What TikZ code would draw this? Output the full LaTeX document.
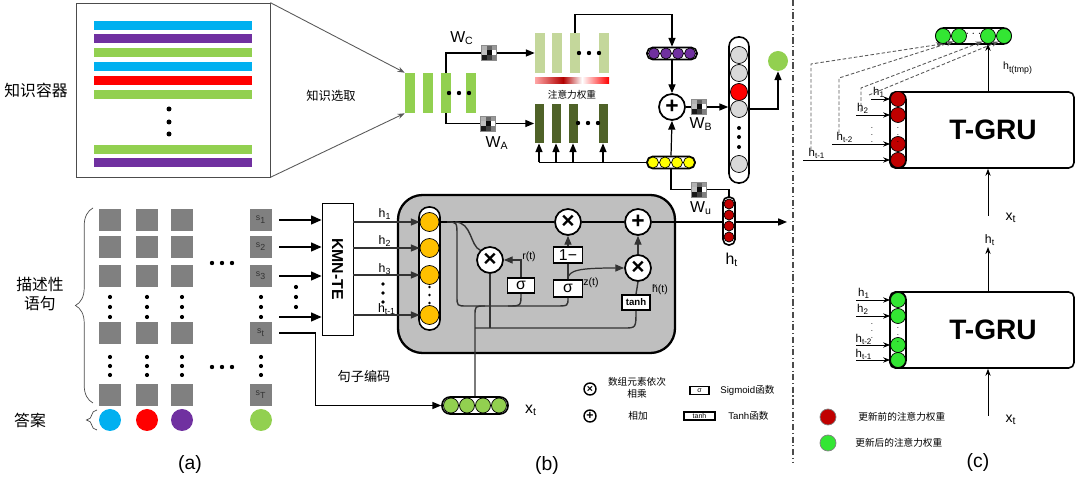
\documentclass[tikz,border=0pt]{standalone}
\usepackage{fontspec}
\setmainfont{Liberation Sans}
\newfontfamily\cjk{Noto Sans CJK SC}
\usetikzlibrary{arrows.meta,decorations.pathreplacing,calc}
\definecolor{kcyan}{HTML}{00B0F0}
\definecolor{kpurple}{HTML}{7030A0}
\definecolor{kgreen}{HTML}{92D050}
\definecolor{kred}{HTML}{FF0000}
\definecolor{klight}{HTML}{C4D79B}
\definecolor{kdark}{HTML}{4F6228}
\definecolor{korange}{HTML}{FFC000}
\definecolor{kyellow}{HTML}{FFFF00}
\definecolor{kdred}{HTML}{C00000}
\definecolor{kbright}{HTML}{33E633}
\newcommand{\pxu}{0.02cm}
\newcommand{\fsz}[1]{\fontsize{#1}{#1}\selectfont}
\def\wmat(#1,#2){%
  \begin{scope}[shift={(#1-7.5,#2-7.5)}]
    \foreach \wshade [count=\wk from 0] in {30,60,40,25,95,0,90,75,50}{
      \pgfmathtruncatemacro\wcol{mod(\wk,3)}
      \pgfmathtruncatemacro\wrow{div(\wk,3)}
      \fill[black!\wshade] (5*\wcol,5*\wrow) rectangle ++(5,5);}
    \draw[black!45, line width=0.3pt] (0,0) rectangle (15,15);
  \end{scope}}
\def\hdots(#1,#2){\foreach \d in {-10,0,10} \fill ({#1+\d},#2) circle (2.2);}
\newcommand{\vcircs}[5]{\foreach \yy [count=\k] in {#2}
  \node[circle, draw, fill=#4, minimum size=#3*\pxu, inner sep=0] (#5\k) at (#1,\yy) {};}
\newcommand{\hcircs}[5]{\foreach \xx [count=\k] in {#1}
  \node[circle, draw, fill=#4, minimum size=#3*\pxu, inner sep=0] (#5\k) at (\xx,#2) {};}
\tikzset{
  ar/.style={line width=0.7pt, -{Triangle[length=5pt,width=4pt]}},
  bigar/.style={line width=1pt, -{Triangle[length=6pt,width=5pt]}},
  thinar/.style={line width=0.5pt, -{Stealth[length=4pt,width=3pt]}},
  bar/.style 2 args={inner sep=0, minimum width=#1*\pxu, minimum height=#2*\pxu},
  capsule/.style n args={3}{draw, line width=0.9pt, fill=white, inner sep=0,
    minimum width=#1*\pxu, minimum height=#2*\pxu, rounded corners=#3*\pxu},
  sq/.style={fill=black!50, minimum size=22*\pxu, inner sep=0},
  op/.style={circle, draw, line width=1pt, fill=white, inner sep=0,
    minimum size=26*\pxu, font=\bfseries\fsz{13}},
  gate/.style={draw, line width=0.9pt, fill=white, inner sep=0, font=\fsz{9}},
  tgru/.style={draw, line width=0.9pt, rounded corners=3pt, fill=white,
    minimum width=184*\pxu, minimum height=76*\pxu},
  lbl/.style={inner sep=0, font=\fsz{7}},
  cn/.style={inner sep=0, font=\cjk\fsz{7}},
  vd/.style={inner sep=0, font=\fsz{4.5}},
}
\begin{document}
\begin{tikzpicture}[x=0.02cm,y=-0.02cm]
\useasboundingbox (0,0) rectangle (1080,479);
%%%%% (a) knowledge container %%%%%
\node[font=\cjk\fsz{9}] (kclab) at (36,90) {知识容器};
\node[draw=black!70, minimum width=194*\pxu, minimum height=174*\pxu] (kbox) at (173,90) {};
\foreach \y/\c in {26/kcyan,39/kpurple,53/kgreen,67/kcyan,81/kred,95/kgreen,150/kgreen,163/kpurple}
  \fill[\c] (94,\y-4.5) rectangle (252,\y+4.5);
\foreach \y in {109,122,134} \fill (169,\y) circle (2.5);

%%%%% knowledge selection %%%%%
\foreach \x [count=\i] in {410,428,446,471} \node[bar={10}{40}, fill=kgreen] (k\i) at (\x,93) {};
\hdots(459,93)
\draw[thinar, black!65] (kbox.north east) -- (k1.north west);
\draw[thinar, black!65] (kbox.south east) -- (k1.south west);
\node[cn] (sel) at (331,96) {知识选取};

\foreach \x [count=\i] in {540,557,575,604} \node[bar={10}{40}, fill=klight] (c\i) at (\x,53) {};
\hdots(589,53)
\foreach \x [count=\i] in {539,556,573,603} \node[bar={9}{39}, fill=kdark] (a\i) at (\x,123.5) {};
\hdots(588,123)
\shade[left color=red!35, right color=red!70!black] (535,78) rectangle (563,84);
\shade[left color=red!70!black, right color=white] (563,78) rectangle (582,84);
\shade[left color=white, right color=red] (582,78) rectangle (609,84);
\node[cn, font=\cjk\fsz{5.5}] (att) at (572,95) {注意力权重};

\draw[ar] (k3.north) |- (c1.west);
\wmat(489,53)
\node[lbl, font=\fsz{9}] (wc) at (462,38) {W\textsubscript{C}};
\draw[ar] (k3.south) |- (a1.west);
\wmat(488,124)
\node[lbl, font=\fsz{9}] (wa) at (497,143) {W\textsubscript{A}};

%%%%% attention vectors %%%%%
\node[capsule={50}{12}{5.5}] (pv) at (672,53.5) {};
\hcircs{654,666,678,690}{53.5}{11}{kpurple}{p}
\node[capsule={48}{12}{5.5}] (yv) at (671,162.5) {};
\hcircs{653,665,677,689}{162.5}{11}{kyellow}{y}
\node[op] (pl) at (672,107) {+};
\draw[ar] (c3.north) -- ++(0,-18) -| (pv.north);
\draw[ar] (pv.south) -- (pl.north);
\draw[ar] (yv.north) -- (pl.south);
\draw[line width=0.7pt] (yv.west) -- (a1.south |- yv.west);
\foreach \i in {1,...,4} \draw[ar] (a\i.south |- yv.west) -- (a\i.south);

\node[capsule={20}{146}{9.5}] (tc) at (739,110) {};
\foreach \yy/\cc [count=\k] in {55/black!15,73/black!15,92/kred,109/black!15,164/black!15}
  \node[circle, draw, fill=\cc, minimum size=17*\pxu, inner sep=0] (g\k) at (739,\yy) {};
\foreach \y in {128,137,147} \fill (739,\y) circle (2);
\draw[ar] (pl.east) -- (tc.west |- pl.east);
\wmat(699,107)
\node[lbl, font=\fsz{9}] (wb) at (701,124) {W\textsubscript{B}};
\node[circle, fill=kgreen, minimum size=20*\pxu, inner sep=0] (og) at (778,61) {};
\draw[ar] (g4.east) -| (og.south);

%%%%% GRU cell %%%%%
\node[draw, line width=1.3pt, fill=black!25, rounded corners=14pt,
  minimum width=277*\pxu, minimum height=158*\pxu] (gru) at (536.5,274) {};
\node[capsule={21}{123}{10}] (oc) at (429.5,268.5) {};
\vcircs{429.5}{222,248,275,315}{19}{korange}{o}
\foreach \y in {287,295,303} \fill (429.5,\y) circle (1.4);

\node[op] (m1) at (568,222) {×};
\node[op] (pl2) at (638,222) {+};
\node[op] (mr) at (490,260) {×};
\node[op] (mz) at (638,268) {×};
\node[gate, minimum width=29*\pxu, minimum height=16*\pxu] (om) at (568,255) {1−};
\node[gate, minimum width=27*\pxu, minimum height=15*\pxu] (sr) at (521,285.5) {σ};
\node[gate, minimum width=29*\pxu, minimum height=17*\pxu] (sz) at (568,288.5) {σ};
\node[gate, minimum width=28*\pxu, minimum height=15*\pxu, font=\bfseries\fsz{5.5}] (th) at (636,302.5) {tanh};
\node[lbl, font=\fsz{6}] (rt) at (529,257) {r(t)};
\node[lbl, font=\fsz{6}] (zt) at (591,283) {z(t)};
\node[lbl, font=\fsz{6}] (hht) at (660,290) {\~{h}(t)};

\coordinate (hout) at (787,222);
\draw[line width=0.8pt] (o1.east) -- (m1.west);
\draw[line width=0.8pt] (m1.east) -- (pl2.west);
\draw[ar] (pl2.east) -- (hout);
\draw[ar, black!80] (om.north) -- (m1.south);
\draw[line width=0.8pt, black!80] (sz.north) -- (om.south);
\draw[ar, black!80] (sz.north) .. controls (568,270) and (580,268) .. (mz.west);
\draw[ar, black!80] (sr.north) |- (mr.east);
\draw[ar, black!80] (mz.north) -- (pl2.south);
\draw[line width=0.8pt, black!80] (th.north) -- (mz.south);
\draw[line width=0.8pt, black!80] (447,222) .. controls (457,222) .. (457,236) -- (457,296)
  .. controls (457,306) .. (467,306) -- (556,306) .. controls (568,306) .. (sz.south);
\draw[line width=0.8pt, black!80] (508,306) .. controls (521,306) .. (sr.south);
\draw[line width=0.8pt, black!80] (455,222) .. controls (472,222) and (470,246) .. (mr.north west);
\draw[line width=0.8pt, black!80] (mr.south) -- (490,328);
\draw[line width=0.8pt, black!80] (475,328) -- (624,328) .. controls (636,328) .. (th.south);

%%%%% h_t output %%%%%
\node[capsule={12}{48}{5.5}] (htc) at (729,221) {};
\vcircs{729}{204,215,226,237}{10}{kdred}{r}
\node[lbl, font=\fsz{9}] (htl) at (732,260) {h\textsubscript{t}};
\draw[line width=0.7pt] (htc.north) -- ++(0,-7) -| (yv.south);
\wmat(699,190)
\node[lbl, font=\fsz{9}] (wu) at (701,208) {W\textsubscript{u}};

%%%%% (a) descriptive sentences %%%%%
\foreach \x [count=\i] in {110,147,182,261}
  \foreach \y [count=\j] in {220,247,276,333,395}
    \node[sq] (s\i\j) at (\x,\y) {};
\foreach \j/\t in {1/1,2/2,3/3,4/t,5/T}
  \node[lbl, font=\fsz{5}, text=black!80] (sl\j) at (s4\j) {s\textsubscript{\t}};
\foreach \x in {110,147,182,261} \foreach \y in {297,307,317,357,366,375} \fill (\x,\y) circle (2.1);
\hdots(222,263)
\hdots(222,367)
\foreach \x/\c [count=\i] in {110/kcyan,147/kred,182/kpurple,261/kgreen}
  \node[circle, fill=\c, minimum size=22*\pxu, inner sep=0] (ans\i) at (\x,420) {};
\draw[decorate, decoration={brace, amplitude=10pt}, black!70] (93,403) -- (93,208);
\draw[decorate, decoration={brace, amplitude=6pt}, black!70] (97,430) -- (97,410);
\node[font=\cjk\fsz{9}, align=center, text height=8pt] (desc) at (40,303) {描述性\\[2pt]语句};
\node[font=\cjk\fsz{9}] (ansl) at (30,420) {答案};

\node[draw, minimum width=31*\pxu, minimum height=132*\pxu] (kmn) at (337.5,269) {};
\node[rotate=-90, font=\bfseries\fsz{9}] (kmnt) at (kmn) {KMN-TE};
\foreach \j in {1,2,3} \draw[bigar] ([xshift=7*\pxu]s4\j.east) -- (kmn.west |- s4\j.east);
\coordinate (s4d) at (279,317);
\draw[bigar] (s4d) -- (kmn.west |- s4d);
\foreach \y in {287,297,307} \fill (296,\y) circle (2.1);

\foreach \i in {1,...,4} \draw[ar, black!80] (kmn.east |- o\i.west) -- (o\i.west);
\node[lbl] (hi1) at (385,214) {h\textsubscript{1}};
\node[lbl] (hi2) at (385,241) {h\textsubscript{2}};
\node[lbl] (hi3) at (385,269) {h\textsubscript{3}};
\node[lbl] (hi4) at (387,309) {h\textsubscript{t-1}};
\foreach \y in {284,293,302} \fill (383,\y) circle (1.8);

\node[capsule={66}{17}{8}] (xt) at (475,405.5) {};
\hcircs{451,467,483,499}{405.5}{15}{kgreen}{x}
\node[lbl, font=\fsz{9}] (xtl) at (531,410) {x\textsubscript{t}};
\draw[ar] ([xshift=7*\pxu]s44.east) -- ++(36,0) |- (xt.west);
\draw[line width=0.8pt, black!80] (xt.north) -- (475,316) .. controls (475,306) .. (485,306);
\node[font=\cjk\fsz{7.5}] (enc) at (364,376) {句子编码};

%%%%% (b) legend %%%%%
\node[op, minimum size=12*\pxu, line width=0.8pt, font=\bfseries\fsz{6}] (lgm) at (590,389) {×};
\node[cn, font=\cjk\fsz{5.5}, align=center] (lgmt) at (637,388) {数组元素依次\\[1pt]相乘};
\node[op, minimum size=12*\pxu, line width=0.8pt, font=\bfseries\fsz{7}] (lgp) at (590,416) {+};
\node[cn, font=\cjk\fsz{5.5}] (lgpt) at (638,416) {相加};
\node[draw, line width=0.8pt, minimum width=19*\pxu, minimum height=8*\pxu, inner sep=0, font=\fsz{4}] (lgs) at (699.5,390.5) {σ};
\node[lbl, font=\fsz{5.5}, anchor=west] (lgst) at (720,390) {Sigmoid{\cjk 函数}};
\node[draw, line width=0.8pt, minimum width=31*\pxu, minimum height=8*\pxu, inner sep=0, font=\fsz{4}] (lgt) at (699.5,416) {tanh};
\node[lbl, font=\fsz{5.5}, anchor=west] (lgtt) at (728,416) {Tanh{\cjk 函数}};

\node[font=\fsz{11}] (capa) at (190,465) {(a)};
\node[font=\fsz{11}] (capb) at (547,466) {(b)};
\node[font=\fsz{11}] (capc) at (978,463) {(c)};

%%%%% (c) T-GRU %%%%%
\draw[black!70, line width=0.6pt, dash pattern=on 3.5pt off 1.5pt on 0.6pt off 1.5pt] (793,0) -- (793,462);

\node[tgru] (tg1) at (982,130) {};
\node[font=\bfseries\fsz{16}] (tg1t) at (993,130) {T-GRU};
\node[capsule={16}{76}{7.5}] (rc1) at (898,130) {};
\vcircs{898}{99,115,144,160}{15}{kdred}{rr}
\node[vd] (rcd) at (898,130) {\vdots};
\node[capsule={75}{16}{7.5}] (gv) at (973.5,36) {};
\hcircs{943,959,988,1004}{36}{15}{kbright}{gc}
\node[lbl, font=\fsz{6}] (gvd) at (973.5,34) {$\cdots$};
\draw[thinar] (tg1.north -| gc3.south) -- (gc3.south);
\node[lbl, font=\fsz{6}] (htmp) at (1018,68) {h\textsubscript{t(tmp)}};

\foreach \i/\s in {1/871,2/856,3/832,4/803} \draw[thinar] (rr\i.west -| \s,0) -- (rr\i.west);
\node[lbl, font=\fsz{6.5}] (r1l) at (879,92) {h\textsubscript{1}};
\node[lbl, font=\fsz{6.5}] (r2l) at (863,108) {h\textsubscript{2}};
\node[vd] (r3l) at (872,130) {\vdots};
\node[lbl, font=\fsz{6.5}] (r4l) at (845,137) {h\textsubscript{t-2}};
\node[lbl, font=\fsz{6.5}] (r5l) at (817,153) {h\textsubscript{t-1}};

\coordinate (d1) at (811,150);
\coordinate (d2) at (839,133);
\coordinate (d3) at (861,112);
\coordinate (d4) at (869,95);
\draw[thinar, black!65, dash pattern=on 2pt off 1.2pt] (d1) -- (811,64) -- (gc1.south);
\draw[thinar, black!65, dash pattern=on 2pt off 1.2pt] (d2) -- (839,78) -- (gc2.south west);
\draw[thinar, black!65, dash pattern=on 2pt off 1.2pt] (d3) -- (861,88) -- (gc3.south west);
\draw[thinar, black!65, dash pattern=on 2pt off 1.2pt] (d4) -- (gc4.south west);

\coordinate (xin1) at (988,216);
\draw[thinar] (xin1) -- (tg1.south -| xin1);
\node[lbl, font=\fsz{8}] (xl1) at (1011,218) {x\textsubscript{t}};

\node[tgru] (tg2) at (982,330) {};
\node[font=\bfseries\fsz{16}] (tg2t) at (993,330) {T-GRU};
\node[capsule={16}{76}{7.5}] (gc) at (898,330) {};
\vcircs{898}{300,316,345,360}{15}{kbright}{gg}
\node[vd] (gcd) at (898,330) {\vdots};
\foreach \i in {1,...,4} \draw[thinar] (gg\i.west -| 856,0) -- (gg\i.west);
\node[lbl, font=\fsz{6.5}] (g1l) at (864,293) {h\textsubscript{1}};
\node[lbl, font=\fsz{6.5}] (g2l) at (863,309) {h\textsubscript{2}};
\node[vd] (g3l) at (872,326) {\vdots};
\node[lbl, font=\fsz{6.5}] (g4l) at (864,339) {h\textsubscript{t-2}};
\node[lbl, font=\fsz{6.5}] (g5l) at (864,354) {h\textsubscript{t-1}};
\coordinate (hup) at (988,247);
\draw[thinar] (tg2.north -| hup) -- (hup);
\node[lbl, font=\fsz{7}] (hupl) at (990,240) {h\textsubscript{t}};
\coordinate (xin2) at (988,416);
\draw[thinar] (xin2) -- (tg2.south -| xin2);
\node[lbl, font=\fsz{8}] (xl2) at (1011,420) {x\textsubscript{t}};

\node[circle, fill=kdred, draw=black!50, minimum size=16*\pxu, inner sep=0] (lr) at (828,417) {};
\node[cn, font=\cjk\fsz{5.5}, anchor=west] (lrt) at (858,417) {更新前的注意力权重};
\node[circle, fill=kbright, draw=black!50, minimum size=16*\pxu, inner sep=0] (lgr) at (828,443) {};
\node[cn, font=\cjk\fsz{5.5}, anchor=west] (lgrt) at (855,443) {更新后的注意力权重};
\end{tikzpicture}
\end{document}
